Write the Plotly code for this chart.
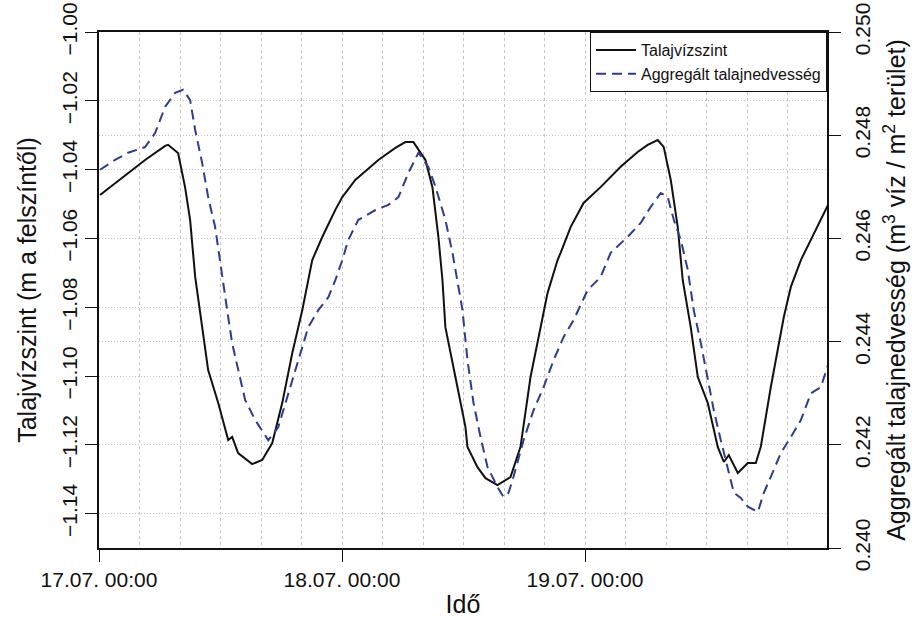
import pandas as pd
import plotly.graph_objects as go

# --- data (hours after 17.07. 00:00) ---
gw_hours = [0.1, 2.87, 4.55, 6.53, 6.82, 7.81, 8.50, 9.0, 9.3, 9.5, 10.19, 10.78, 11.77, 12.76,
            13.15, 13.74, 15.13, 16.12, 17.11, 18.10, 19.09, 20.08, 21.06, 22.05, 23.34, 24.03,
            25.31, 27.59, 29.27, 30.26, 31.05, 32.24, 32.93, 33.52, 33.92, 34.21, 35.20, 36.19,
            36.39, 37.38, 38.17, 39.36, 40.64, 41.63, 42.62, 43.61, 44.30, 45.29, 45.59, 46.58,
            47.86, 49.54, 51.52, 53.20, 54.19, 55.18, 55.77, 56.47, 57.16, 57.65, 58.44, 59.14,
            60.12, 61.11, 61.71, 62.20, 63.09, 64.08, 64.87, 65.36, 66.35, 67.64, 68.33, 69.32,
            70.31, 71.30, 72.0]
gw_level = [-1.0474, -1.0410, -1.0372, -1.0331, -1.0328, -1.0352, -1.0451, -1.0547, -1.0642,
            -1.0712, -1.0858, -1.0983, -1.1078, -1.1186, -1.1177, -1.1224, -1.1256, -1.1244,
            -1.1195, -1.1078, -1.0933, -1.0808, -1.0663, -1.0596, -1.0517, -1.0480, -1.0430,
            -1.0372, -1.0337, -1.0320, -1.0320, -1.0372, -1.0451, -1.0596, -1.0721, -1.0858,
            -1.1003, -1.1148, -1.1206, -1.1265, -1.1297, -1.1317, -1.1294, -1.1206, -1.1003,
            -1.0858, -1.0759, -1.0663, -1.0642, -1.0567, -1.0497, -1.0451, -1.0392, -1.0349,
            -1.0328, -1.0314, -1.0334, -1.0430, -1.0567, -1.0721, -1.0858, -1.1003, -1.1078,
            -1.1206, -1.1250, -1.1230, -1.1282, -1.1253, -1.1253, -1.1206, -1.1032, -1.0828,
            -1.0741, -1.0663, -1.0605, -1.0547, -1.0503]

sm_hours = [0.1, 1.58, 2.87, 4.55, 5.54, 6.53, 7.52, 8.31, 9.0, 9.5, 10.19, 10.78, 11.47, 11.97,
            12.66, 13.15, 13.74, 14.43, 15.43, 16.71, 17.70, 18.69, 19.68, 20.67, 21.66, 22.65,
            23.34, 24.03, 24.62, 25.61, 27.30, 28.58, 29.57, 30.56, 31.55, 32.54, 33.23, 34.21,
            34.91, 35.20, 35.90, 36.39, 36.99, 37.68, 38.37, 39.36, 39.95, 40.45, 40.94, 41.93,
            42.92, 43.91, 44.90, 45.89, 46.88, 48.26, 49.54, 50.53, 52.21, 53.50, 54.49, 55.48,
            56.17, 56.77, 57.46, 58.15, 58.74, 59.44, 60.12, 60.72, 61.41, 62.10, 62.70, 63.39,
            64.08, 65.07, 65.66, 66.35, 67.34, 68.33, 69.32, 70.31, 71.30, 72.0]
sm_value = [0.24733, 0.24752, 0.24766, 0.24777, 0.24804, 0.24855, 0.24882, 0.24888, 0.24868,
            0.24810, 0.24746, 0.24680, 0.24622, 0.24558, 0.24461, 0.24397, 0.24345, 0.24287,
            0.24248, 0.24209, 0.24234, 0.24300, 0.24364, 0.24428, 0.24461, 0.24486, 0.24519,
            0.24558, 0.24597, 0.24636, 0.24655, 0.24665, 0.24680, 0.24727, 0.24766, 0.24738,
            0.24700, 0.24636, 0.24572, 0.24539, 0.24461, 0.24364, 0.24281, 0.24215, 0.24157,
            0.24118, 0.24099, 0.24107, 0.24138, 0.24209, 0.24267, 0.24312, 0.24364, 0.24409,
            0.24442, 0.24500, 0.24525, 0.24572, 0.24603, 0.24630, 0.24661, 0.24688, 0.24680,
            0.24636, 0.24597, 0.24539, 0.24461, 0.24397, 0.24331, 0.24267, 0.24209, 0.24157,
            0.24107, 0.24097, 0.24080, 0.24070, 0.24107, 0.24138, 0.24184, 0.24215, 0.24248,
            0.24300, 0.24312, 0.24355]

x_tick_labels = ["17.07. 00:00", "18.07. 00:00", "19.07. 00:00"]
left_ticks = [-1.14, -1.12, -1.10, -1.08, -1.06, -1.04, -1.02, -1.00]
right_ticks = [0.240, 0.242, 0.244, 0.246, 0.248, 0.250]

base = pd.Timestamp("2013-07-17 00:00")
gw_time = [base + pd.Timedelta(hours=h) for h in gw_hours]
sm_time = [base + pd.Timedelta(hours=h) for h in sm_hours]
x_tick_vals = [base + pd.Timedelta(days=i) for i in range(3)]

FONT = "Liberation Sans, Arial, sans-serif"
GRID = "#c4c4c4"

fig = go.Figure()
fig.add_trace(go.Scatter(x=gw_time, y=gw_level, mode="lines", name="Talajvízszint",
                         line=dict(color="#111111", width=2)))
fig.add_trace(go.Scatter(x=sm_time, y=sm_value, mode="lines", name="Aggregált talajnedvesség",
                         yaxis="y2", line=dict(color="#2d3c94", width=2, dash="10px,6px")))

fig.update_layout(
    width=915, height=618,
    margin=dict(l=99, r=88, t=32, b=70, autoexpand=False),
    paper_bgcolor="white", plot_bgcolor="white",
    font=dict(family=FONT, size=21, color="#111111"),
    showlegend=True,
    legend=dict(x=1, y=1, xanchor="right", yanchor="top", bgcolor="white",
                bordercolor="#111111", borderwidth=1, font=dict(size=16),
                tracegroupgap=0, entrywidth=214, itemwidth=40),
    xaxis=dict(
        range=[base, base + pd.Timedelta(hours=71.9)],
        tickvals=x_tick_vals, ticktext=x_tick_labels,
        ticks="outside", ticklen=12, tickcolor="#111111",
        showline=True, linecolor="#111111", linewidth=1.5, mirror=True,
        showgrid=True, gridcolor=GRID, griddash="3px,3px", gridwidth=1,
        minor=dict(dtick=4 * 3600000, tick0=base, showgrid=True, gridcolor=GRID,
                   griddash="3px,3px", ticklen=0),
        title=dict(text="Idő", standoff=8),
        zeroline=False, automargin=False,
    ),
    yaxis=dict(
        range=[-1.15, -1.00], tickvals=left_ticks,
        tickformat=".2f", tickangle=-90,
        ticks="outside", ticklen=12, tickcolor="#111111",
        showline=True, linecolor="#111111", linewidth=1.5, mirror=True,
        showgrid=True, gridcolor=GRID, griddash="1px,2px",
        title=dict(text="Talajvízszint (m a felszíntől)", standoff=14),
        zeroline=False, automargin=False, ticklabelstandoff=0,
        ticklabeloverflow="allow",
    ),
    yaxis2=dict(
        range=[0.240, 0.250], tickvals=right_ticks, tickformat=".3f",
        overlaying="y", side="right", tickangle=-90,
        ticks="outside", ticklen=12, tickcolor="#111111",
        showline=True, linecolor="#111111", linewidth=1.5,
        showgrid=True, gridcolor=GRID, griddash="1px,2px",
        title=dict(text="Aggregált talajnedvesség (m<sup>3</sup> víz / m<sup>2</sup> terület)",
                   standoff=15),
        zeroline=False, automargin=False, ticklabelstandoff=4,
        ticklabeloverflow="allow",
    ),
)

fig.write_html("out.html",
               config={"displayModeBar": False},
               post_script="document.body.style.margin='0';document.body.style.overflow='hidden';")
